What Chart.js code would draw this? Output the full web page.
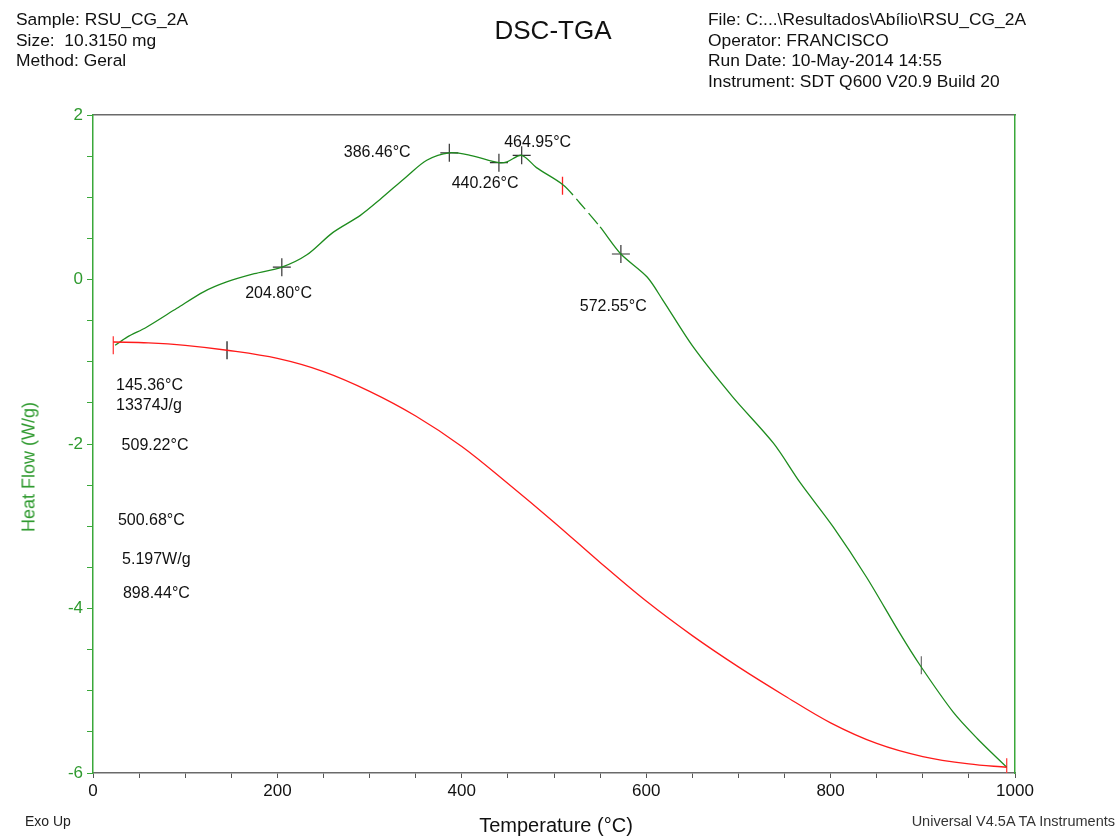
<!DOCTYPE html>
<html>
<head>
<meta charset="utf-8">
<title>DSC-TGA</title>
<script src="https://cdn.jsdelivr.net/npm/chart.js@4"></script>
<style>
  body { margin: 0; background: #fff; font-family: "Liberation Sans", Arial, sans-serif; color: #111; }
  #wrap { position: relative; width: 1119px; height: 838px; overflow: hidden; }
  #chartBox { position: absolute; left: 0; top: 0; width: 1119px; height: 838px; }
  .txt { position: absolute; white-space: pre; }
  .info { font-size: 17.4px; line-height: 20.5px; }
</style>
</head>
<body>
<div id="wrap">
  <div id="chartBox"><canvas id="dscChart"></canvas></div>
  <div class="txt info" style="left:16px; top:9px;">Sample: RSU_CG_2A
Size:  10.3150 mg
Method: Geral</div>
  <div class="txt" style="left:553px; top:15px; font-size:26px; transform:translateX(-50%);">DSC-TGA</div>
  <div class="txt info" style="left:708px; top:9px;">File: C:...\Resultados\Abílio\RSU_CG_2A
Operator: FRANCISCO
Run Date: 10-May-2014 14:55
Instrument: SDT Q600 V20.9 Build 20</div>
  <div class="txt" style="left:29px; top:467px; font-size:18px; color:#2f9a2f; transform:translate(-50%,-50%) rotate(-90deg);">Heat Flow (W/g)</div>
  <div class="txt" style="left:25px; top:813px; font-size:14px; color:#222;">Exo Up</div>
  <div class="txt" style="left:556px; top:814px; font-size:20px; transform:translateX(-50%);">Temperature (°C)</div>
  <div class="txt" style="right:4px; top:813px; font-size:14.5px; color:#333;">Universal V4.5A TA Instruments</div>
</div>
<script>
// heat flow curve (green)
const tempDsc = [24, 37, 58, 91, 120, 145, 175, 204.8, 232, 260, 290, 311, 340, 362, 386.46, 409, 440.26, 449, 464.95, 481, 510, 528, 550, 572.55, 601, 618, 651, 694, 738, 767, 803, 839, 875, 897, 933, 959, 991];
const heatFlow = [-0.80, -0.70, -0.58, -0.35, -0.15, -0.03, 0.07, 0.15, 0.30, 0.57, 0.78, 0.97, 1.25, 1.45, 1.54, 1.51, 1.42, 1.43, 1.51, 1.36, 1.15, 0.93, 0.64, 0.31, 0.03, -0.25, -0.82, -1.43, -1.99, -2.47, -3.01, -3.62, -4.30, -4.69, -5.26, -5.58, -5.93];

// second signal (red)
const tempTga = [22, 60, 100, 145.36, 200, 250, 300, 350, 400, 450, 500, 550, 600, 650, 700, 750, 800, 850, 900, 950, 991];
const tgaCurve = [-0.76, -0.77, -0.80, -0.86, -0.96, -1.12, -1.36, -1.66, -2.03, -2.48, -2.95, -3.44, -3.91, -4.33, -4.71, -5.06, -5.39, -5.64, -5.80, -5.89, -5.93];

// peak markers (+)
const peakTemps = [204.80, 386.46, 440.26, 464.95, 572.55];
const peakValues = [0.15, 1.54, 1.42, 1.51, 0.31];

// limit markers (|)
const limitTemps = [22, 145.36, 509.22, 898.44, 991];
const limitValues = [-0.80, -0.86, 1.14, -4.69, -5.93];
const limitColors = ['#ff4040', '#222222', '#ff2020', '#777777', '#ff4040'];

// annotation texts and where they sit (data units)
const noteTexts = ['204.80°C', '386.46°C', '440.26°C', '464.95°C', '572.55°C', '145.36°C', '13374J/g', '509.22°C', '500.68°C', '5.197W/g', '898.44°C'];
const noteTemps = [165, 272, 389, 446, 528, 25, 25, 31, 27, 31.5, 32.5];
const noteValues = [-0.17, 1.54, 1.17, 1.67, -0.33, -1.29, -1.53, -2.02, -2.93, -3.40, -3.82];

const green = '#1e8c1e';
const axisGreen = '#3aa83a';
const pts = (xs, ys) => xs.map((x, i) => ({ x: x, y: ys[i] }));

const notesPlugin = {
  id: 'notes',
  afterDatasetsDraw(chart) {
    const { ctx, scales } = chart;
    ctx.save();
    ctx.font = '16px "Liberation Sans", Arial, sans-serif';
    ctx.fillStyle = '#111';
    ctx.textAlign = 'left';
    ctx.textBaseline = 'middle';
    noteTexts.forEach((t, i) => {
      ctx.fillText(t, scales.x.getPixelForValue(noteTemps[i]), scales.y.getPixelForValue(noteValues[i]));
    });
    ctx.restore();
  }
};

new Chart(document.getElementById('dscChart'), {
  type: 'line',
  data: {
    datasets: [
      {
        label: 'TGA',
        data: pts(tempTga, tgaCurve),
        borderColor: '#ff1a1a',
        borderWidth: 1.3,
        pointRadius: 0,
        tension: 0.35,
        fill: false
      },
      {
        label: 'Heat Flow',
        data: pts(tempDsc, heatFlow),
        borderColor: green,
        borderWidth: 1.3,
        pointRadius: 0,
        tension: 0.3,
        fill: false,
        segment: {
          borderDash: c => (c.p0.parsed.x >= 509 && c.p1.parsed.x <= 551) ? [14, 5] : undefined
        }
      },
      {
        label: 'peaks',
        data: pts(peakTemps, peakValues),
        showLine: false,
        pointStyle: 'cross',
        pointRadius: 9,
        pointBorderWidth: 1.2,
        pointBorderColor: '#333'
      },
      {
        label: 'limits',
        data: pts(limitTemps, limitValues),
        showLine: false,
        pointStyle: 'line',
        pointRotation: 90,
        pointRadius: 9,
        pointBorderWidth: 1.3,
        pointBorderColor: limitColors
      }
    ]
  },
  options: {
    responsive: true,
    maintainAspectRatio: false,
    animation: false,
    layout: { padding: { top: 115, right: 104, left: 0, bottom: 0 } },
    plugins: {
      legend: { display: false },
      tooltip: { enabled: false }
    },
    scales: {
      x: {
        type: 'linear',
        position: 'bottom',
        min: 0,
        max: 1000,
        ticks: {
          stepSize: 50,
          autoSkip: false,
          maxRotation: 0,
          padding: 3,
          color: '#111',
          font: { family: '"Liberation Sans", Arial, sans-serif', size: 17 },
          callback: v => (v % 200 === 0 ? v : '')
        },
        grid: { drawOnChartArea: false, drawTicks: true, tickLength: 5, color: '#555' },
        border: { display: true, color: '#6a6a6a', width: 1.5 },
        afterFit: s => { s.height = 65; }
      },
      x2: {
        type: 'linear',
        position: 'top',
        min: 0,
        max: 1000,
        ticks: { display: false },
        grid: { display: false },
        border: { display: true, color: '#6a6a6a', width: 1.5 },
        afterFit: s => { s.height = 0; }
      },
      y: {
        position: 'left',
        min: -6,
        max: 2,
        ticks: {
          stepSize: 0.5,
          autoSkip: false,
          padding: 4,
          color: '#2f9a2f',
          font: { family: '"Liberation Sans", Arial, sans-serif', size: 17 },
          callback: v => (v % 2 === 0 ? v : '')
        },
        grid: { drawOnChartArea: false, drawTicks: true, tickLength: 6, color: axisGreen },
        border: { display: true, color: axisGreen, width: 1.5 },
        afterFit: s => { s.width = 93; }
      },
      y2: {
        position: 'right',
        min: -6,
        max: 2,
        ticks: { display: false },
        grid: { display: false },
        border: { display: true, color: axisGreen, width: 1.5 },
        afterFit: s => { s.width = 0; }
      }
    }
  },
  plugins: [notesPlugin]
});
</script>
</body>
</html>
